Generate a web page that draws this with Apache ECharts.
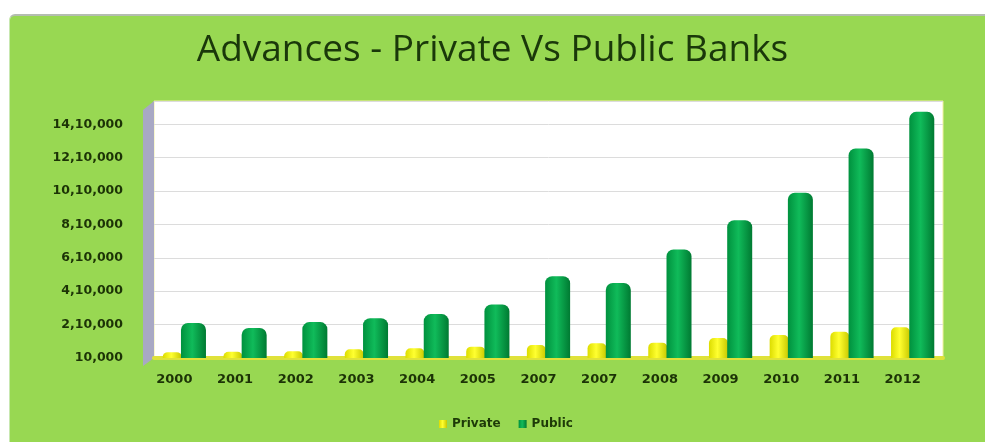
<!DOCTYPE html>
<html>
<head>
<meta charset="utf-8">
<script src="https://cdn.jsdelivr.net/npm/echarts@6/dist/echarts.min.js"></script>
<style>
  html, body { margin: 0; padding: 0; background: #ffffff; }
  #panel { position: absolute; left: 9px; top: 14px; width: 976px; height: 428px;
           background: #98d852; border-top: 2px solid #b4bdb0; border-left: 1px solid #c8e8b0;
           border-top-left-radius: 6px; }
  #chart { position: absolute; left: 0; top: 0; width: 985px; height: 442px; }
</style>
</head>
<body>
<div id="panel"></div>
<div id="chart"></div>
<script>
const categories = ['2000','2001','2002','2003','2004','2005','2007','2007','2008','2009','2010','2011','2012'];
const privateValues = [45000, 47000, 50000, 62000, 68000, 78000, 88000, 98000, 102000, 130000, 148000, 167000, 194000];
const publicValues = [220000, 190000, 225000, 248000, 273000, 331000, 500000, 460000, 660000, 836000, 1000000, 1265000, 1485000];
const yTicks = { min: 10000, interval: 200000, max: 1550000 };

function indianFormat(n) {
  const s = String(Math.round(n));
  if (s.length <= 3) return s;
  const last3 = s.slice(-3);
  const rest = s.slice(0, -3);
  return rest.replace(/\B(?=(\d{2})+(?!\d))/g, ',') + ',' + last3;
}

const chart = echarts.init(document.getElementById('chart'), null, { renderer: 'canvas' });
const option = {
  backgroundColor: 'transparent',
  animation: false,
  title: {
    text: 'Advances - Private Vs Public Banks',
    left: 'center',
    top: 27,
    textStyle: { fontFamily: 'Open Sans', fontSize: 37, fontWeight: 'normal', color: '#1a380a' }
  },
  legend: {
    left: 434,
    top: 413,
    itemWidth: 8,
    itemHeight: 8,
    itemGap: 18,
    icon: 'rect',
    textStyle: { fontFamily: 'DejaVu Sans', fontWeight: 'bold', fontSize: 12, color: '#1e3a08' },
    data: ['Private', 'Public']
  },
  grid: {
    left: 154, right: 42, top: 101, bottom: 84,
    show: true, backgroundColor: '#ffffff', borderColor: '#f2f0a0', borderWidth: 1
  },
  graphic: [{
    type: 'polygon',
    shape: { points: [[143, 110], [154, 101], [154, 358], [143, 366]] },
    style: { fill: '#a8a8c4' },
    silent: true
  }],
  xAxis: {
    type: 'category',
    data: categories,
    axisTick: { show: false },
    axisLine: { lineStyle: { color: '#dfe23a', width: 4 } },
    axisLabel: {
      margin: 15, fontFamily: 'DejaVu Sans', fontWeight: 'bold', fontSize: 13,
      color: '#1c3306', padding: [0, 20, 0, 0], interval: 0
    }
  },
  yAxis: {
    type: 'value',
    min: yTicks.min,
    max: yTicks.max,
    interval: yTicks.interval,
    axisLine: { show: false },
    axisTick: { show: false },
    splitLine: { lineStyle: { color: '#dcdcdc', width: 1 } },
    axisLabel: {
      margin: 31, showMaxLabel: false, fontFamily: 'DejaVu Sans', fontWeight: 'bold',
      fontSize: 12.5, color: '#1c3306', formatter: v => indianFormat(v)
    }
  },
  series: [
    {
      name: 'Private', type: 'bar', data: privateValues, barWidth: 19, barGap: '-4%',
      itemStyle: {
        borderRadius: [5, 5, 0, 0],
        color: new echarts.graphic.LinearGradient(0, 0, 1, 0, [
          { offset: 0, color: '#dcdc00' }, { offset: 0.45, color: '#ffff30' }, { offset: 1, color: '#c8c800' }
        ])
      }
    },
    {
      name: 'Public', type: 'bar', data: publicValues, barWidth: 25,
      itemStyle: {
        borderRadius: [7, 7, 0, 0],
        color: new echarts.graphic.LinearGradient(0, 0, 1, 0, [
          { offset: 0, color: '#00913e' }, { offset: 0.45, color: '#10bb5a' }, { offset: 1, color: '#007a32' }
        ])
      }
    }
  ]
};
chart.setOption(option);
</script>
</body>
</html>
